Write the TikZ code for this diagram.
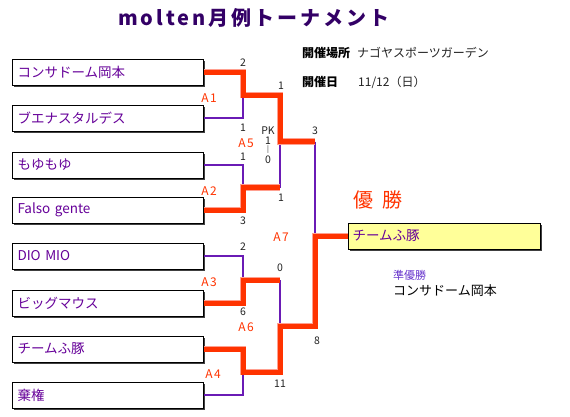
\documentclass[tikz,border=0pt]{standalone}
\usepackage{fontspec}
\setmainfont{Noto Sans CJK JP}
\usetikzlibrary{shadows}
\definecolor{ttl}{HTML}{330066}
\definecolor{tname}{HTML}{660099}
\definecolor{wred}{HTML}{FF3300}
\definecolor{halo}{HTML}{FFA090}
\definecolor{lpur}{HTML}{6A1BB5}
\definecolor{wfill}{HTML}{FFFF99}
\definecolor{runner}{HTML}{6633CC}
\definecolor{numc}{HTML}{222222}
\begin{document}
\begin{tikzpicture}[x=1pt,y=-1pt,
  team/.style={draw=black, line width=1pt, fill=white, text width=181pt, inner xsep=5pt, inner ysep=0pt,
    minimum height=26pt, align=left, anchor=west, font=\fontsize{13.5}{14}\selectfont, text=tname,
    drop shadow={shadow xshift=1.5pt, shadow yshift=-1.5pt, fill=black!75, opacity=1}},
  champ/.style={team, fill=wfill, text width=184pt, inner xsep=4pt},
  loser/.style={draw=lpur, line width=1.5pt},
  winner/.style={draw=wred, line width=5pt, line join=miter, preaction={draw=halo, line width=6.5pt}},
  num/.style={font=\fontsize{10.5}{11}\selectfont, text=numc, inner sep=0pt},
  mlab/.style={font=\fontsize{12}{13}\selectfont\addfontfeature{LetterSpace=12}, text=wred, inner sep=0pt},
  info/.style={font=\fontsize{12}{13}\selectfont, text=numc, inner sep=0pt, anchor=west},
  infob/.style={font=\bfseries\fontsize{12}{13}\selectfont, text=black, inner sep=0pt, anchor=west},
]
\useasboundingbox (0,0) rectangle (570,416);

\node[font=\bfseries\fontsize{20}{22}\selectfont\addfontfeature{LetterSpace=15}, text=ttl, inner sep=0pt] (title) at (254,18) {molten月例トーナメント};

\node[infob] (lv) at (302,53) {開催場所};
\node[info] (venue) at (357,53) {ナゴヤスポーツガーデン};
\node[infob] (ld) at (302,82) {開催日};
\node[info] (date) at (358,82) {11/12（日）};

\node[team] (t1) at (12,72) {コンサドーム岡本};
\node[team] (t2) at (12,118) {ブエナスタルデス};
\node[team] (t3) at (12,165) {もゆもゆ};
\node[team] (t4) at (12,210) {Falso gente};
\node[team] (t5) at (12,256) {DIO MIO};
\node[team] (t6) at (12,303) {ビッグマウス};
\node[team] (t7) at (12,349) {チームふ豚};
\node[team] (t8) at (12,395) {棄権};

\node[champ] (w) at (348,236) {チームふ豚};
\node[font=\fontsize{20}{22}\selectfont, text=wred, inner sep=0pt, anchor=west] (yu) at (353,200) {優\hspace{9pt}勝};
\node[font=\fontsize{11}{12}\selectfont, text=runner, inner sep=0pt, anchor=west] (ru) at (393,275) {準優勝};
\node[font=\fontsize{13}{14}\selectfont, text=black, inner sep=0pt, anchor=west] (rn) at (393,291) {コンサドーム岡本};

\coordinate (a1) at (243,95);
\coordinate (a2) at (243,187.5);
\coordinate (a3) at (243,280);
\coordinate (a4) at (243,372);
\coordinate (d2) at (280,187.5);
\coordinate (d3) at (280,280);
\coordinate (b1) at (280,141.5);
\coordinate (b2) at (280,326);
\coordinate (c1) at (315,141.5);
\coordinate (c2) at (315,326);

% losing lines
\draw[loser] (t2.east) -| (a1);
\draw[loser] (t3.east) -| (a2);
\draw[loser] (d2) -- (b1);
\draw[loser] (c1) -- (c1 |- w.west);
\draw[loser] (t5.east) -| (a3);
\draw[loser] (d3) -- (b2);
\draw[loser] (t8.east) -| (a4);

% winning lines
\draw[winner] (t1.east) -| (a1) -| (b1) -- (c1);
\draw[winner] (t4.east) -| (a2) -- (d2);
\draw[winner] (t6.east) -| (a3) -- (d3);
\draw[winner] (t7.east) -| (a4) -| (b2) -- (c2) |- (w.west);

% scores
\node[num] (s1) at (243,63) {2};
\node[num] (s2) at (243,128) {1};
\node[num] (s3) at (281,86) {1};
\node[num] (pk) at (268,131) {PK};
\node[num] (pk1) at (268,140.5) {1};
\node[num, font=\fontsize{7}{7}\selectfont] (pkd) at (268,150) {|};
\node[num] (pk0) at (268,159.5) {0};
\node[num] (s4) at (315,131) {3};
\node[num] (s5) at (243,157) {1};
\node[num] (s6) at (281,198) {1};
\node[num] (s7) at (243,221) {3};
\node[num] (s8) at (243,247) {2};
\node[num] (s9) at (280,268) {0};
\node[num] (s10) at (243,312) {6};
\node[num] (s11) at (317,341) {8};
\node[num] (s12) at (280,384) {11};

% match labels
\node[mlab] (m1) at (209,98) {A1};
\node[mlab] (m5) at (246,143) {A5};
\node[mlab] (m2) at (209,191) {A2};
\node[mlab] (m7) at (281,237) {A7};
\node[mlab] (m3) at (209,282) {A3};
\node[mlab] (m6) at (246,327) {A6};
\node[mlab] (m4) at (213,374) {A4};
\end{tikzpicture}
\end{document}
